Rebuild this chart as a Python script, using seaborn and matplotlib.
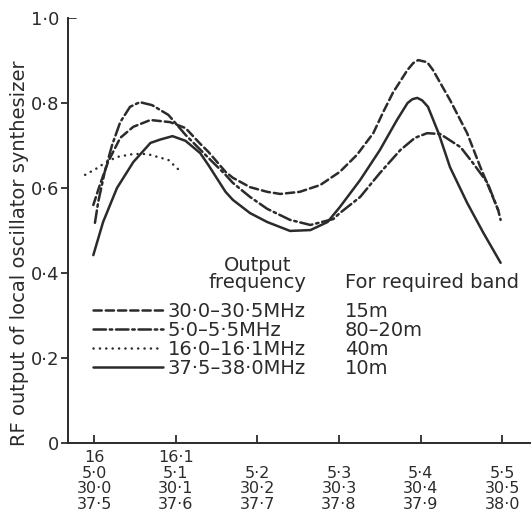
import numpy as np
import pandas as pd
import matplotlib
matplotlib.use("Agg")
import matplotlib.pyplot as plt
import seaborn as sns
from matplotlib.lines import Line2D

# ---------------- data ----------------
# x is given on the 5.0-5.5 MHz scale (the other rows are parallel scales)
x_15m = [4.999, 5.007, 5.017, 5.032, 5.048, 5.069, 5.093, 5.112, 5.130, 5.140,
         5.161, 5.170, 5.191, 5.212, 5.228, 5.252, 5.277, 5.301, 5.322, 5.342,
         5.354, 5.366, 5.384, 5.391, 5.397, 5.408, 5.415, 5.436, 5.457, 5.473,
         5.485, 5.495, 5.498]
y_15m = [0.560, 0.607, 0.661, 0.718, 0.744, 0.760, 0.755, 0.741, 0.704, 0.685,
         0.638, 0.624, 0.602, 0.591, 0.586, 0.591, 0.607, 0.638, 0.678, 0.729,
         0.778, 0.824, 0.878, 0.894, 0.901, 0.896, 0.878, 0.807, 0.729, 0.650,
         0.595, 0.548, 0.525]

x_80m = [5.001, 5.005, 5.013, 5.022, 5.032, 5.044, 5.056, 5.071, 5.091, 5.112,
         5.140, 5.161, 5.170, 5.191, 5.212, 5.240, 5.265, 5.293, 5.301, 5.326,
         5.350, 5.375, 5.393, 5.408, 5.424, 5.449, 5.464, 5.482, 5.495]
y_80m = [0.518, 0.567, 0.638, 0.701, 0.755, 0.791, 0.802, 0.795, 0.772, 0.725,
         0.671, 0.631, 0.612, 0.579, 0.551, 0.525, 0.513, 0.527, 0.541, 0.579,
         0.635, 0.689, 0.718, 0.729, 0.727, 0.696, 0.659, 0.612, 0.548]

x_40m = [4.989, 5.004, 5.013, 5.028, 5.048, 5.065, 5.078, 5.091, 5.108]
y_40m = [0.631, 0.647, 0.659, 0.673, 0.680, 0.680, 0.673, 0.666, 0.635]

x_10m = [4.999, 5.011, 5.028, 5.048, 5.069, 5.081, 5.096, 5.112, 5.130, 5.140,
         5.161, 5.170, 5.191, 5.212, 5.240, 5.265, 5.286, 5.301, 5.326, 5.350,
         5.371, 5.384, 5.390, 5.396, 5.402, 5.409, 5.422, 5.436, 5.457, 5.477,
         5.498]
y_10m = [0.442, 0.520, 0.600, 0.661, 0.706, 0.714, 0.722, 0.711, 0.682, 0.654,
         0.591, 0.572, 0.541, 0.520, 0.499, 0.501, 0.520, 0.555, 0.619, 0.689,
         0.760, 0.800, 0.809, 0.812, 0.806, 0.791, 0.729, 0.649, 0.565, 0.494,
         0.424]

freq_labels = ["30·0–30·5MHz", "5·0–5·5MHz", "16·0–16·1MHz", "37·5–38·0MHz"]
band_labels = ["15m", "80–20m", "40m", "10m"]

tick_pos = [5.0, 5.1, 5.2, 5.3, 5.4, 5.5]
row_16 = ["16", "16·1", "", "", "", ""]
row_5 = ["5·0", "5·1", "5·2", "5·3", "5·4", "5·5"]
row_30 = ["30·0", "30·1", "30·2", "30·3", "30·4", "30·5"]
row_37 = ["37·5", "37·6", "37·7", "37·8", "37·9", "38·0"]

y_ticks = [0, 0.2, 0.4, 0.6, 0.8, 1.0]
y_ticklabels = ["0", "0·2", "0·4", "0·6", "0·8", "1·0"]

ylabel = "RF output of local oscillator synthesizer"

# ---------------- build table ----------------
frames = []
for lab, xs, ys in zip(freq_labels, [x_15m, x_80m, x_40m, x_10m],
                       [y_15m, y_80m, y_40m, y_10m]):
    frames.append(pd.DataFrame({"x": xs, "y": ys, "series": lab}))
df = pd.concat(frames, ignore_index=True)

# ---------------- style ----------------
sns.set_style("ticks")
plt.rcParams["font.family"] = ["DejaVu Sans"]
ink = "#2b2b2b"
plt.rcParams["text.color"] = ink
plt.rcParams["axes.labelcolor"] = ink
plt.rcParams["xtick.color"] = ink
plt.rcParams["ytick.color"] = ink

fig = plt.figure(figsize=(5.32, 5.17), dpi=100)
fig.patch.set_facecolor("white")
ax = fig.add_axes([68 / 532, (517 - 443) / 517, 462 / 532, 425 / 517])
ax.set_facecolor("white")

lw = 1.8
dashes = {
    freq_labels[0]: (3.3, 1.6),
    freq_labels[1]: (5.0, 1.5, 1.0, 1.5),
    freq_labels[2]: (0.05, 2.5),
    freq_labels[3]: "",
}
sns.lineplot(data=df, x="x", y="y", hue="series", style="series",
             hue_order=freq_labels, style_order=freq_labels,
             palette=[ink] * 4, dashes=dashes, estimator=None, sort=False,
             linewidth=lw, legend=False, ax=ax)

lines = ax.lines[:4]
for ln in lines:
    ln.set_dash_capstyle("round")
    ln.set_solid_capstyle("round")

# ---------------- axes ----------------
ax.set_xlim(4.968, 5.534)
ax.set_ylim(0, 1.0)
sns.despine(ax=ax)
for s in ["left", "bottom"]:
    ax.spines[s].set_linewidth(1.4)
    ax.spines[s].set_color(ink)

ax.set_xticks(tick_pos)
ax.set_xticklabels(["\n".join(r) for r in zip(row_16, row_5, row_30, row_37)])
ax.set_yticks(y_ticks)
ax.set_yticklabels(y_ticklabels)
ax.tick_params(axis="x", direction="in", length=6, width=1.3, pad=5,
               labelsize=11.5)
ax.tick_params(axis="y", direction="out", length=5, width=1.3, pad=1.5,
               labelsize=13)
for t in ax.get_xticklabels():
    t.set_linespacing(1.05)
# the 1.0 tick points to the right in the original
ax.yaxis.get_major_ticks()[-1].tick1line.set_visible(False)
ax.axhline(1.0, xmin=0, xmax=8 / 462, color=ink, lw=1.3)

ax.set_xlabel("")
ax.set_ylabel(ylabel, fontsize=14)
ax.yaxis.set_label_coords(-0.084, 0.447)

# ---------------- legends ----------------
fs = 14
top = 0.440
leg1 = ax.legend(lines, freq_labels, loc="upper left",
                 bbox_to_anchor=((93 - 68) / 462, top), frameon=False,
                 fontsize=fs, title="Output\nfrequency", title_fontsize=fs,
                 handlelength=3.6, handletextpad=0.25, labelspacing=0.0,
                 borderpad=0, borderaxespad=0, alignment="right")
leg1.get_title().set_multialignment("center")
leg1.get_title().set_linespacing(0.84)
leg1._legend_box.sep = 7.5
for h in leg1.legend_handles:
    h.set_linewidth(lw)
ax.add_artist(leg1)

blank = [Line2D([], [], linestyle="none") for _ in band_labels]
leg2 = ax.legend(blank, band_labels, loc="upper left",
                 bbox_to_anchor=((345 - 68) / 462, top), frameon=False,
                 fontsize=fs, title="\nFor required band", title_fontsize=fs,
                 handlelength=0, handletextpad=0, labelspacing=0.0,
                 borderpad=0, borderaxespad=0, alignment="left")
leg2.get_title().set_linespacing(0.84)
leg2._legend_box.sep = 7.5

fig.savefig("out.png", dpi=100, facecolor="white")
